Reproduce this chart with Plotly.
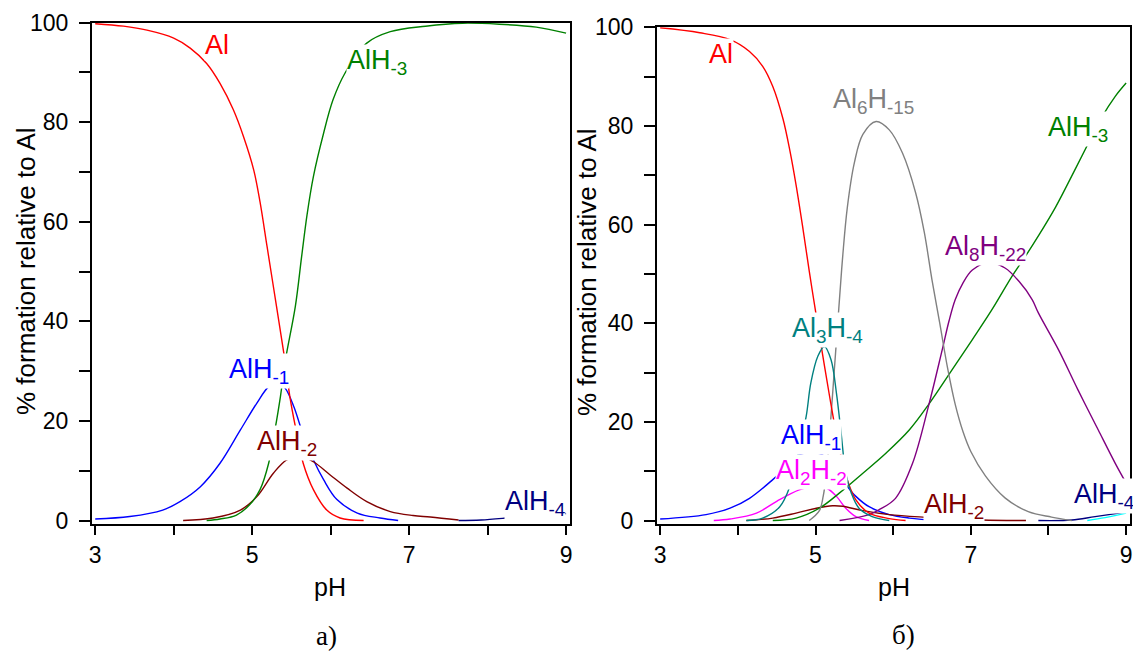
import plotly.graph_objects as go

# ---------------- Panel a) data ----------------
a_al_ph = [3.0, 3.36, 3.66, 4.0, 4.21, 4.42, 4.59, 4.76, 4.89, 5.02, 5.10, 5.19, 5.31, 5.42, 5.48, 5.55, 5.65, 5.78, 5.95, 6.12, 6.42]
a_al_v = [99.8, 99.3, 98.5, 96.9, 94.9, 91.8, 87.8, 82.5, 77.1, 70.4, 64.0, 55.0, 43.0, 31.9, 24.9, 18.9, 11.5, 6.2, 2.1, 0.5, 0.0]

a_alh3_ph = [4.42, 4.59, 4.80, 4.97, 5.10, 5.21, 5.29, 5.36, 5.42, 5.55, 5.63, 5.70, 5.78, 5.91, 6.03, 6.18, 6.46, 6.76, 7.21, 7.68, 8.15, 8.62, 9.0]
a_alh3_v = [0.0, 0.3, 1.1, 3.2, 6.2, 11.5, 18.2, 24.9, 31.9, 43.0, 53.0, 61.5, 69.1, 77.8, 84.5, 89.8, 95.9, 98.2, 99.3, 99.9, 99.7, 99.1, 97.9]

a_alh1_ph = [3.0, 3.44, 3.86, 4.08, 4.34, 4.59, 4.85, 5.06, 5.21, 5.32, 5.42, 5.53, 5.63, 5.78, 5.91, 6.08, 6.34, 6.63, 6.86]
a_alh1_v = [0.3, 0.8, 2.1, 3.8, 6.8, 11.5, 18.2, 23.6, 26.9, 27.8, 26.6, 22.9, 18.2, 12.2, 8.2, 4.2, 1.5, 0.5, 0.0]

a_alh2_ph = [4.12, 4.50, 4.85, 5.06, 5.27, 5.44, 5.61, 5.78, 5.99, 6.21, 6.46, 6.76, 7.05, 7.27, 7.63]
a_alh2_v = [0.0, 0.5, 2.1, 4.8, 9.5, 12.2, 12.9, 11.8, 9.2, 6.5, 3.8, 1.8, 1.0, 0.7, 0.1]

a_alh4_ph = [7.63, 7.92, 8.39, 8.81, 9.0]
a_alh4_v = [0.0, 0.1, 0.7, 1.1, 1.4]

# ---------------- Panel б) data ----------------
b_al_ph = [3.0, 3.51, 3.90, 4.15, 4.32, 4.45, 4.58, 4.67, 4.75, 4.84, 4.92, 5.0, 5.09, 5.18, 5.26, 5.35, 5.41, 5.52, 5.69, 5.95, 6.16]
b_al_v = [99.9, 98.9, 97.5, 95.1, 92.1, 88.0, 81.5, 75.0, 68.0, 59.0, 50.5, 42.5, 33.8, 25.3, 18.2, 11.6, 8.2, 4.2, 1.5, 0.4, 0.0]

b_al6_ph = [4.92, 5.05, 5.10, 5.14, 5.18, 5.24, 5.30, 5.35, 5.41, 5.50, 5.61, 5.78, 5.95, 6.12, 6.29, 6.40, 6.50, 6.60, 6.70, 6.80, 6.90, 7.00, 7.19, 7.44, 7.74, 8.04, 8.30]
b_al6_v = [0.0, 2.0, 5.0, 9.5, 17.0, 30.0, 43.0, 53.5, 63.5, 72.5, 78.3, 80.9, 79.2, 74.5, 66.4, 58.5, 48.8, 40.0, 31.0, 23.5, 18.0, 14.0, 9.0, 4.6, 1.8, 0.7, 0.0]

b_al8_ph = [5.31, 5.69, 5.82, 6.03, 6.25, 6.46, 6.63, 6.72, 6.80, 6.90, 7.02, 7.23, 7.44, 7.62, 7.79, 7.87, 8.13, 8.38, 8.64, 8.86, 9.0]
b_al8_v = [0.0, 1.2, 2.2, 4.5, 11.6, 23.5, 34.5, 40.5, 44.8, 48.2, 50.8, 52.3, 51.2, 48.5, 44.8, 42.1, 34.6, 26.5, 18.4, 11.6, 7.6]

b_alh3_ph = [4.45, 4.75, 5.05, 5.31, 5.61, 5.91, 6.21, 6.46, 6.76, 7.02, 7.27, 7.53, 7.70, 7.85, 8.09, 8.34, 8.53, 8.68, 8.86, 9.0]
b_alh3_v = [0.0, 0.5, 2.5, 5.6, 9.6, 13.7, 18.4, 23.6, 30.6, 36.7, 42.7, 49.5, 53.5, 57.2, 63.5, 71.1, 77.0, 81.6, 86.0, 88.7]

b_al3_ph = [4.11, 4.32, 4.54, 4.67, 4.77, 4.88, 4.94, 5.03, 5.115, 5.20, 5.27, 5.33, 5.39, 5.46, 5.56, 5.73, 5.95]
b_al3_v = [0.0, 0.5, 2.8, 6.9, 13.0, 21.1, 27.9, 33.3, 35.3, 32.6, 25.8, 17.7, 9.6, 5.6, 2.5, 0.8, 0.0]

b_alh1_ph = [3.0, 3.59, 3.90, 4.15, 4.45, 4.79, 4.94, 5.09, 5.25, 5.41, 5.52, 5.69, 5.95, 6.21, 6.59]
b_alh1_v = [0.3, 1.2, 2.5, 4.5, 8.3, 13.3, 13.8, 13.3, 10.5, 6.9, 4.9, 2.8, 1.2, 0.5, 0.0]

b_al2_ph = [3.69, 3.90, 4.24, 4.50, 4.79, 4.97, 5.14, 5.27, 5.39, 5.52, 5.69]
b_al2_v = [0.0, 0.3, 1.5, 3.9, 6.2, 6.9, 6.6, 4.9, 2.5, 0.8, 0.0]

b_alh2_ph = [4.11, 4.45, 4.75, 5.01, 5.22, 5.35, 5.61, 5.95, 6.38, 6.80, 7.15, 7.71]
b_alh2_v = [0.0, 0.5, 1.5, 2.5, 3.0, 2.9, 2.0, 1.2, 0.7, 0.4, 0.1, 0.0]

b_alh4_ph = [7.87, 8.30, 8.60, 9.0]
b_alh4_v = [0.0, 0.1, 0.8, 1.7]

b_cyan_ph = [8.50, 8.73, 9.0]
b_cyan_v = [0.0, 0.6, 1.5]

# ---------------- labels (text, pH, value, colour) ----------------
a_labels = [
    ("Al", 4.55, 95.6, "#ff0000"),
    ("AlH<sub>-3</sub>", 6.59, 92.2, "#008000"),
    ("AlH<sub>-1</sub>", 5.09, 30.0, "#0000ff"),
    ("AlH<sub>-2</sub>", 5.45, 15.5, "#800000"),
    ("AlH<sub>-4</sub>", 8.61, 3.5, "#000080"),
]
b_labels = [
    ("Al", 3.78, 94.5, "#ff0000"),
    ("Al<sub>6</sub>H<sub>-15</sub>", 5.75, 85.0, "#808080"),
    ("AlH<sub>-3</sub>", 8.38, 79.4, "#008000"),
    ("Al<sub>8</sub>H<sub>-22</sub>", 7.19, 55.3, "#800080"),
    ("Al<sub>3</sub>H<sub>-4</sub>", 5.15, 38.6, "#008080"),
    ("AlH<sub>-1</sub>", 4.94, 16.9, "#0000ff"),
    ("Al<sub>2</sub>H<sub>-2</sub>", 4.95, 9.8, "#ff00ff"),
    ("AlH<sub>-2</sub>", 6.78, 2.9, "#800000"),
    ("AlH<sub>-4</sub>", 8.72, 4.9, "#000080"),
]

W, H = 1133, 653
fig = go.Figure()

def add(xs, ys, color, xa, ya):
    fig.add_trace(go.Scatter(x=xs, y=ys, mode="lines", xaxis=xa, yaxis=ya,
                             line=dict(color=color, width=1.4, shape="spline", smoothing=1.0),
                             hoverinfo="skip"))

add(a_alh1_ph, a_alh1_v, "#0000ff", "x", "y")
add(a_alh2_ph, a_alh2_v, "#800000", "x", "y")
add(a_alh4_ph, a_alh4_v, "#000080", "x", "y")
add(a_al_ph, a_al_v, "#ff0000", "x", "y")
add(a_alh3_ph, a_alh3_v, "#008000", "x", "y")

add(b_alh1_ph, b_alh1_v, "#0000ff", "x2", "y2")
add(b_al2_ph, b_al2_v, "#ff00ff", "x2", "y2")
add(b_alh2_ph, b_alh2_v, "#800000", "x2", "y2")
add(b_alh4_ph, b_alh4_v, "#000080", "x2", "y2")
add(b_cyan_ph, b_cyan_v, "#00ffff", "x2", "y2")
add(b_alh3_ph, b_alh3_v, "#008000", "x2", "y2")
add(b_al8_ph, b_al8_v, "#800080", "x2", "y2")
add(b_al6_ph, b_al6_v, "#808080", "x2", "y2")
add(b_al_ph, b_al_v, "#ff0000", "x2", "y2")
add(b_al3_ph, b_al3_v, "#008080", "x2", "y2")

SANS = "Liberation Sans, Arial, sans-serif"
SERIF = "Liberation Serif, Times New Roman, serif"
tick_font = dict(family=SANS, size=23, color="black")
ytitle_font = dict(family=SANS, size=26, color="black")
xtitle_font = dict(family=SANS, size=25, color="black")

annotations = []
for txt, x, y, c in a_labels:
    annotations.append(dict(text=txt, x=x, y=y, xref="x", yref="y", showarrow=False,
                            font=dict(family=SANS, size=27, color=c),
                            bgcolor="white", borderpad=0))
for txt, x, y, c in b_labels:
    annotations.append(dict(text=txt, x=x, y=y, xref="x2", yref="y2", showarrow=False,
                            font=dict(family=SANS, size=27, color=c),
                            bgcolor="white", borderpad=0))

def paper(px, py):
    return px / W, 1 - py / H

# axis titles and panel captions
for txt, px, py, ang, fnt in [
    ("% formation relative to Al", 26, 271, -90, ytitle_font),
    ("% formation relative to Al", 587, 272, -90, ytitle_font),
    ("pH", 330, 587, 0, xtitle_font),
    ("pH", 894, 587, 0, xtitle_font),
    ("a)", 326, 636, 0, dict(family=SERIF, size=27, color="black")),
    ("б)", 903, 635, 0, dict(family=SERIF, size=27, color="black")),
]:
    x, y = paper(px, py)
    annotations.append(dict(text=txt, x=x, y=y, xref="paper", yref="paper", showarrow=False,
                            textangle=ang, font=fnt, xanchor="center", yanchor="middle"))

xt_vals = [3, 4, 5, 6, 7, 8, 9]
xt_text = ["3", "", "5", "", "7", "", "9"]
yt_vals = [0, 10, 20, 30, 40, 50, 60, 70, 80, 90, 100]
yt_text = ["0", "", "20", "", "40", "", "60", "", "80", "", "100"]

def xaxis(domain, anchor):
    return dict(domain=domain, anchor=anchor, range=[2.955, 9.05], tickmode="array",
                tickvals=xt_vals, ticktext=xt_text, ticks="outside", ticklen=10, tickwidth=1.5,
                tickcolor="black", showline=True, linecolor="black", linewidth=1.5, mirror=True,
                showgrid=False, zeroline=False, tickfont=tick_font, fixedrange=True)

def yaxis(domain, anchor, rng):
    return dict(domain=domain, anchor=anchor, range=rng, tickmode="array",
                tickvals=yt_vals, ticktext=yt_text, ticks="outside", ticklen=11, tickwidth=1.5,
                tickcolor="black", showline=True, linecolor="black", linewidth=1.5, mirror=True,
                showgrid=False, zeroline=False, tickfont=tick_font, fixedrange=True,
                ticklabelstandoff=6)

fig.update_layout(
    width=W, height=H,
    margin=dict(l=0, r=0, t=0, b=0, autoexpand=False),
    paper_bgcolor="white", plot_bgcolor="white",
    showlegend=False,
    xaxis=xaxis([91.7 / W, 570 / W], "y"),
    yaxis=yaxis([1 - 523.5 / H, 1 - 22.7 / H], "x", [-0.6, 100]),
    xaxis2=xaxis([656.7 / W, 1130 / W], "y2"),
    yaxis2=yaxis([1 - 523.5 / H, 1 - 27.3 / H], "x2", [-0.6, 100]),
    annotations=annotations,
)

fig.write_html("out.html", config={"displayModeBar": False},
               post_script="document.body.style.margin='0';document.body.style.padding='0';")
